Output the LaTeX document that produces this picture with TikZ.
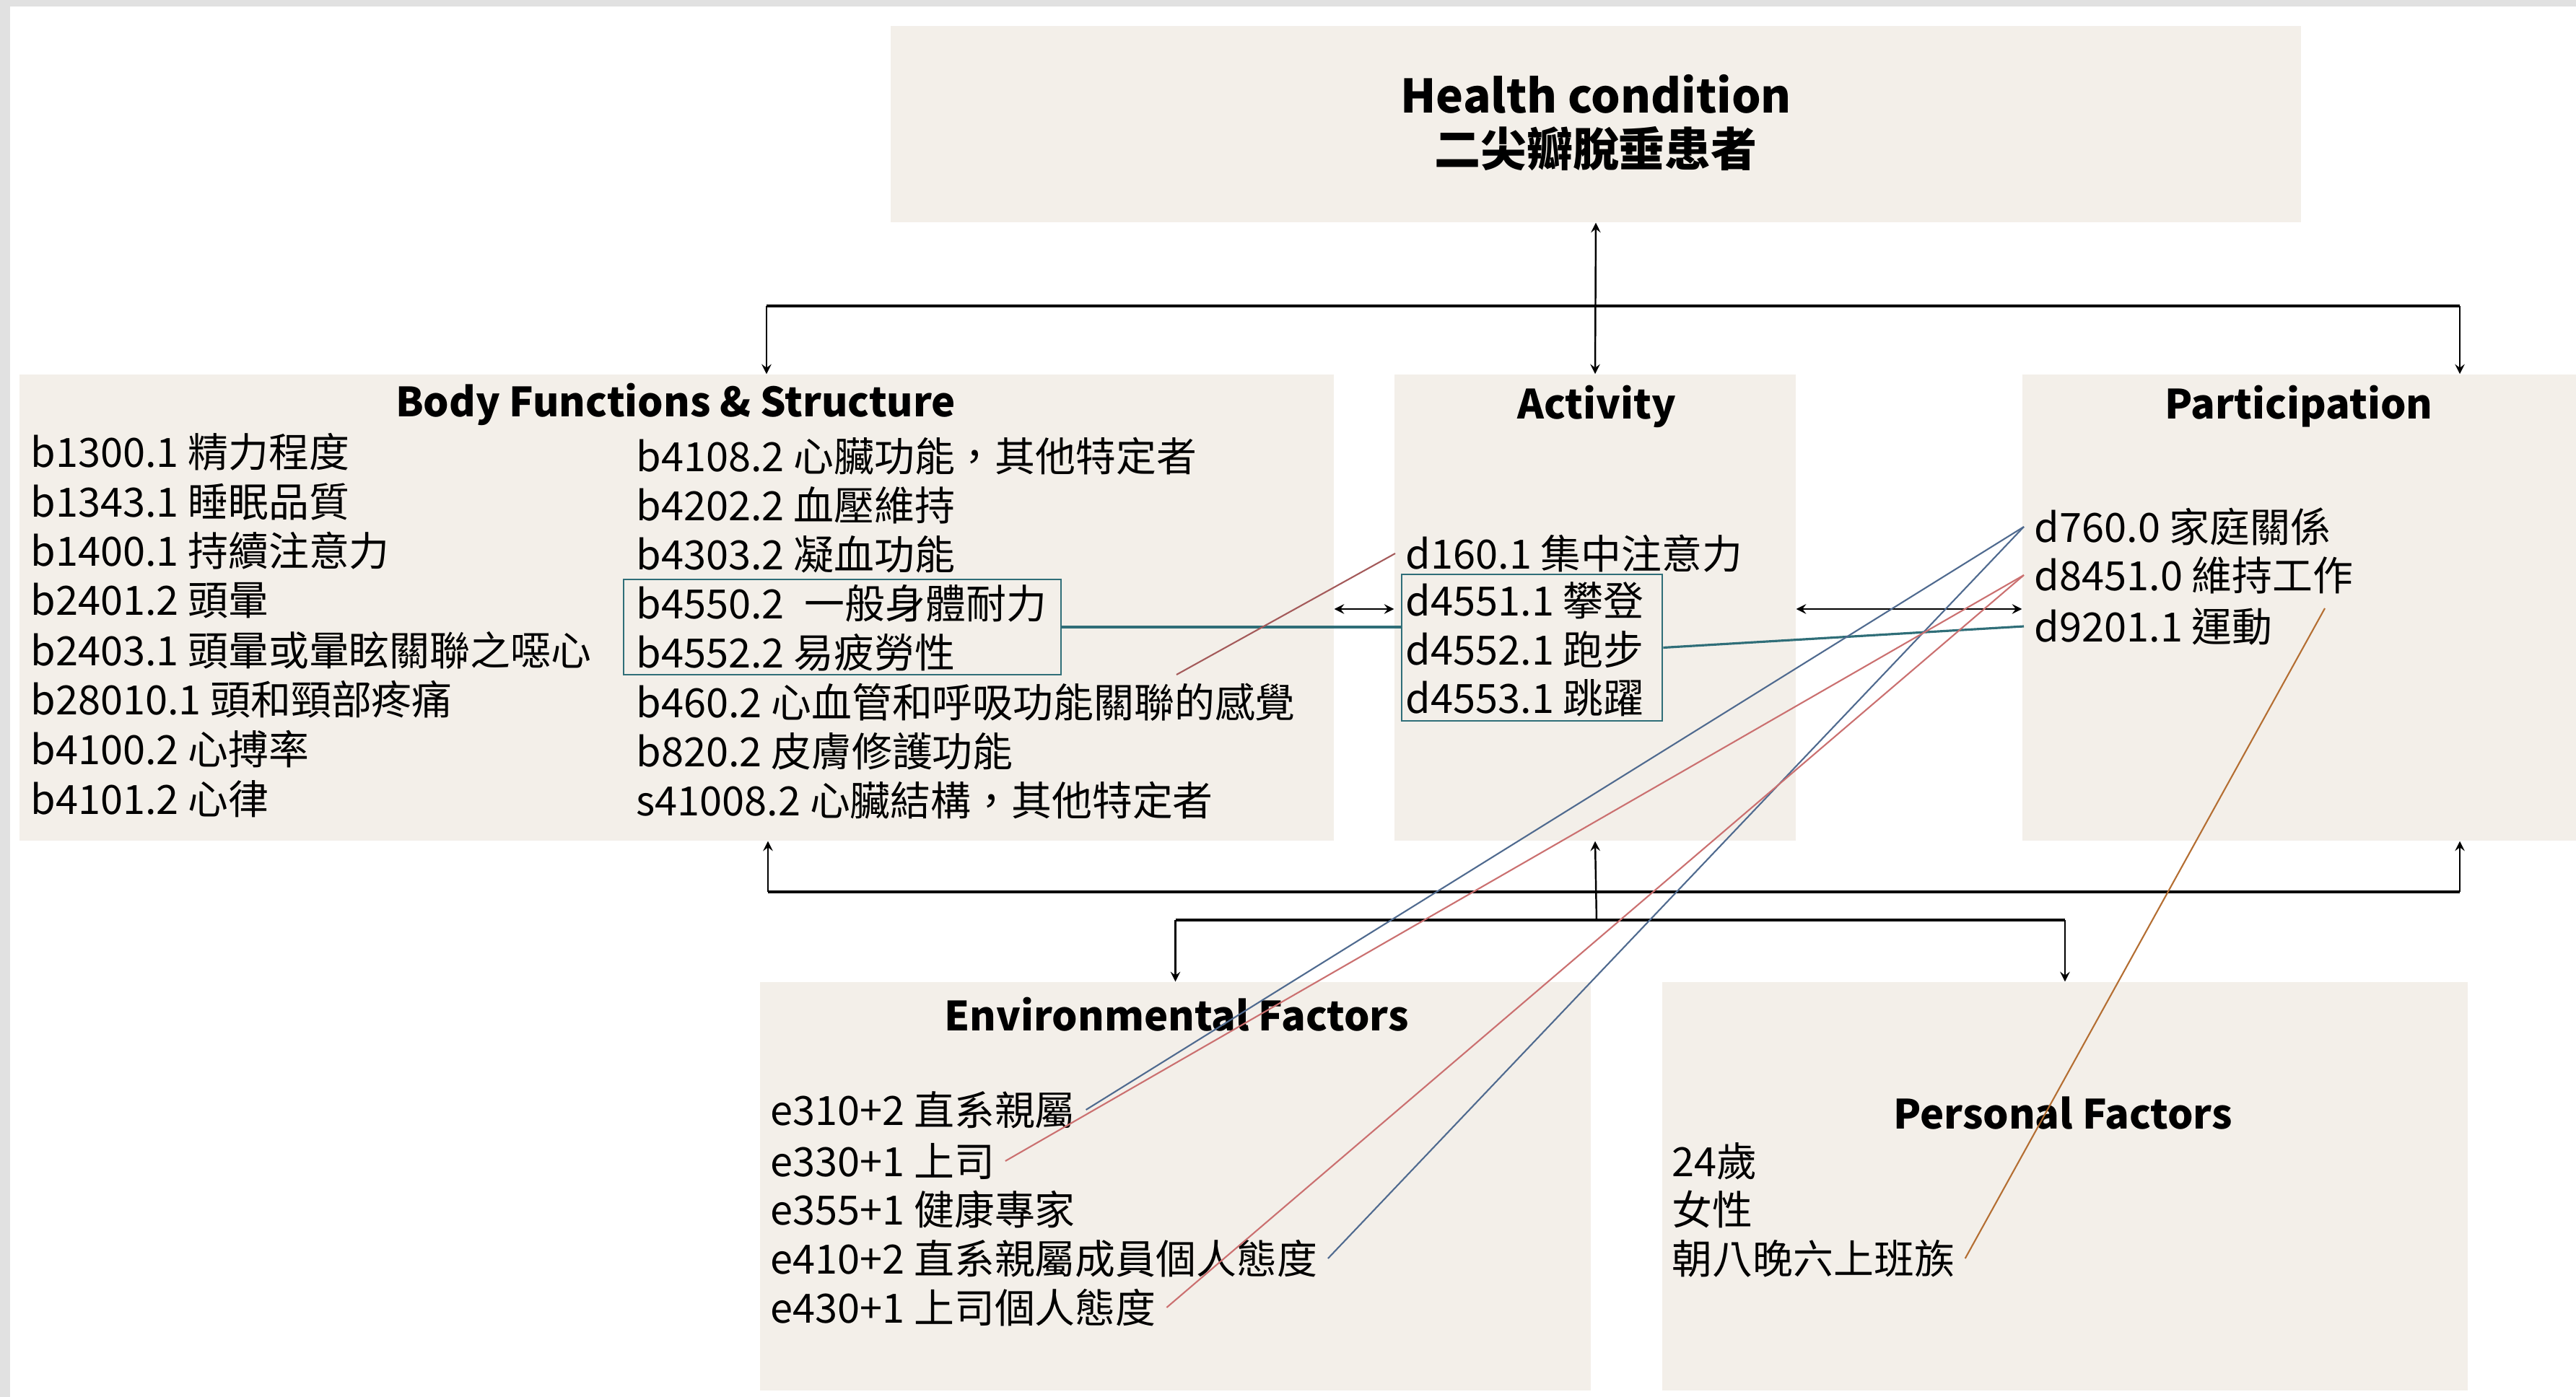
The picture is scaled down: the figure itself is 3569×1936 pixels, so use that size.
\documentclass[tikz,border=0pt]{standalone}
\usepackage{fontspec}
\setmainfont{Noto Sans CJK TC}
\usetikzlibrary{arrows}

\definecolor{pagegray}{HTML}{E1E1E1}
\definecolor{boxfill}{HTML}{F3EFE9}
\definecolor{linkteal}{HTML}{2F6E78}
\definecolor{linkblue}{HTML}{4F6A8F}
\definecolor{linkred}{HTML}{CB7070}
\definecolor{linkbrown}{HTML}{B46E32}
\definecolor{linkrose}{HTML}{A45A5A}

\begin{document}
\begin{tikzpicture}
[x=0.1mm, y=-0.1mm, >=stealth,
 panel/.style={rectangle, fill=boxfill, inner sep=0pt},
 head/.style={font=\bfseries\fontsize{15.9}{19}\selectfont},
 item/.style={anchor=west, inner sep=4pt, font=\fontsize{15.9}{19}\selectfont},
 linkbox/.style={rectangle, draw=linkteal, line width=0.8pt, inner sep=0pt},
 conn/.style={line width=0.7pt},
 bar/.style={line width=1.1pt}]

\useasboundingbox (0,0) rectangle (3569,1936);
\fill[pagegray] (0,0) rectangle (3569,1936);
\fill[white] (14,9) rectangle (3569,1936);

% panels
\node (hc) at (2211,172) [panel, minimum width=195.4mm, minimum height=27.2mm] {};
\node (bfs) at (937.5,842) [panel, minimum width=182.1mm, minimum height=64.6mm] {};
\node (act) at (2210,842) [panel, minimum width=55.6mm, minimum height=64.6mm] {};
\node (part) at (3185.5,842) [panel, minimum width=76.7mm, minimum height=64.6mm] {};
\node (env) at (1628.5,1644) [panel, minimum width=115.1mm, minimum height=56.6mm] {};
\node (pf) at (2861,1644) [panel, minimum width=111.6mm, minimum height=56.6mm] {};

% titles
\node (hctitle) at (2211,170) [align=center, font=\bfseries\fontsize{18.2}{21.3}\selectfont] {Health condition\\二尖瓣脫垂患者};
\node (bfstitle) at (936,560) [head] {Body Functions \& Structure};
\node (acttitle) at (2212,563) [head] {Activity};
\node (parttitle) at (3185,563) [head] {Participation};
\node (envtitle) at (1630,1406) [head] {Environmental Factors};
\node (pftitle) at (2858,1543) [head] {Personal Factors};

% body functions, left column
\node (b1300) at (28,626) [item] {b1300.1 精力程度};
\node (b1343) at (28,695) [item] {b1343.1 睡眠品質};
\node (b1400) at (28,763) [item] {b1400.1 持續注意力};
\node (b2401) at (28,832) [item] {b2401.2 頭暈};
\node (b2403) at (28,901) [item] {b2403.1 頭暈或暈眩關聯之噁心};
\node (b28010) at (28,969) [item] {b28010.1 頭和頸部疼痛};
\node (b4100) at (28,1038) [item] {b4100.2 心搏率};
\node (b4101) at (28,1107) [item] {b4101.2 心律};

% body functions, right column
\node (b4108) at (867,632) [item] {b4108.2 心臟功能，其他特定者};
\node (b4202) at (867,700) [item] {b4202.2 血壓維持};
\node (b4303) at (867,768) [item] {b4303.2 凝血功能};
\node (b4550) at (867,836) [item] {b4550.2\enspace 一般身體耐力};
\node (b4552) at (867,904) [item] {b4552.2 易疲勞性};
\node (b460) at (867,973) [item] {b460.2 心血管和呼吸功能關聯的感覺};
\node (b820) at (867,1041) [item] {b820.2 皮膚修護功能};
\node (s41008) at (867,1109) [item] {s41008.2 心臟結構，其他特定者};
\node (bbox) at (1167,869) [linkbox, minimum width=60.6mm, minimum height=13.2mm] {};

% activity
\node (d160) at (1933,767) [item] {d160.1 集中注意力};
\node (d4551) at (1933,832) [item] {d4551.1 攀登};
\node (d4552) at (1933,900) [item] {d4552.1 跑步};
\node (d4553) at (1933,967) [item] {d4553.1 跳躍};
\node (dbox) at (2122.5,897.5) [linkbox, minimum width=36.1mm, minimum height=20.3mm] {};

% participation
\node (d760) at (2804,730) [item] {d760.0 家庭關係};
\node (d8451) at (2804,797) [item] {d8451.0 維持工作};
\node (d9201) at (2804,868) [item] {d9201.1 運動};

% environmental factors
\node (e310) at (1053,1538) [item] {e310+2 直系親屬};
\node (e330) at (1053,1609) [item] {e330+1 上司};
\node (e355) at (1053,1676) [item] {e355+1 健康專家};
\node (e410) at (1053,1744) [item] {e410+2 直系親屬成員個人態度};
\node (e430) at (1053,1812) [item] {e430+1 上司個人態度};

% personal factors
\node (age) at (2302,1609) [item] {24歲};
\node (sex) at (2302,1676) [item] {女性};
\node (job) at (2302,1744) [item] {朝八晚六上班族};

% bar points
\coordinate (topl) at (1062,424);
\coordinate (topr) at (3408,424);
\coordinate (lowl) at (1064,1236);
\coordinate (lowr) at (3408,1236);
\coordinate (lowm) at (2212,1275);
\coordinate (side) at (0,844);
\coordinate (b460end) at (1630,935);
\coordinate (d9201end) at (3221,843);

% health condition links
\draw [<->, conn] (hc.south) -- (act.north);
\draw [bar] (topl) -- (topr);
\draw [->, conn] (topl) -- (topl |- bfs.north);
\draw [->, conn] (topr) -- (topr |- part.north);

% context links
\draw [bar] (lowl) -- (lowr);
\draw [->, conn] (lowl) -- (lowl |- bfs.south);
\draw [->, conn] (lowr) -- (lowr |- part.south);
\draw [->, conn] (lowm) -- (act.south);
\draw [bar] (env.north |- lowm) -- (pf.north |- lowm);
\draw [->, conn] (env.north |- lowm) -- (env.north);
\draw [->, conn] (pf.north |- lowm) -- (pf.north);

% components
\draw [<->, conn] (bfs.east |- side) -- (act.west |- side);
\draw [<->, conn] (act.east |- side) -- (part.west |- side);

% code links
\draw [linkteal, line width=0.9pt] (bbox.east) -- (bbox.east -| dbox.west);
\draw [linkteal, line width=0.9pt] (dbox.east) -- (d9201.west);
\draw [linkrose, line width=0.6pt] (b460end) -- (d160.west);
\draw [linkblue, line width=0.6pt] (e310.east) -- (d760.west);
\draw [linkblue, line width=0.6pt] (e410.east) -- (d760.west);
\draw [linkred, line width=0.6pt] (e330.east) -- (d8451.west);
\draw [linkred, line width=0.6pt] (e430.east) -- (d8451.west);
\draw [linkbrown, line width=0.6pt] (job.east) -- (d9201end);
\end{tikzpicture}
\end{document}
